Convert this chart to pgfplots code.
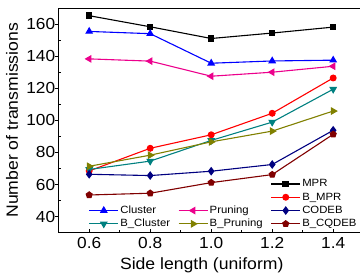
\documentclass[border=0pt]{standalone}
\usepackage{fontspec}
\setmainfont[FakeStretch=1.08]{Liberation Sans}
\usepackage{pgfplots}
\pgfplotsset{compat=1.18}
\usetikzlibrary{plotmarks}
\definecolor{cNavy}{RGB}{0,0,128}
\definecolor{cTeal}{RGB}{0,128,128}
\definecolor{cOlive}{RGB}{128,128,0}
\definecolor{cDkRed}{RGB}{128,0,0}
\pgfplotsset{
 sMPR/.style={black, line width=1.1pt, mark=square*, mark size=2.7pt, mark options={solid}},
 sCluster/.style={blue, line width=1.1pt, mark=triangle*, mark size=3.5pt},
 sPruning/.style={magenta, line width=1.1pt, mark=triangle*, mark size=3.5pt, mark options={rotate=90}},
 sBMPR/.style={red, line width=1.1pt, mark=*, mark size=2.9pt},
 sCODEB/.style={cNavy, line width=1.1pt, mark=diamond*, mark size=3.5pt},
 sBCluster/.style={cTeal, line width=1.1pt, mark=triangle*, mark size=3.5pt, mark options={rotate=180}},
 sBPruning/.style={cOlive, line width=1.1pt, mark=triangle*, mark size=3.5pt, mark options={rotate=-90}},
 sBCQDEB/.style={cDkRed, line width=1.1pt, mark=pentagon*, mark size=3.1pt},
}
\begin{document}
\begin{tikzpicture}
\begin{axis}[
  scale only axis, width=305pt, height=224.7pt,
  xmin=0.5, xmax=1.5, ymin=30, ymax=170,
  xtick={0.6,0.8,1.0,1.2,1.4},
  xticklabels={0.6,0.8,1.0,1.2,1.4},
  ytick={40,60,80,100,120,140,160},
  minor x tick num=1, minor y tick num=1,
  tick align=inside, xtick pos=bottom, ytick pos=left,
  major tick length=4pt, minor tick length=2.5pt,
  major y tick style={xshift=-4pt},
  tick style={black, line width=0.6pt},
  axis line style={line width=0.9pt},
  /pgf/number format/assume math mode=true,
  tick label style={font=\fontsize{16}{18}\selectfont},
  xticklabel style={yshift=-1.5pt},
  xlabel={Side length (uniform)},
  ylabel={Number of transmissions},
  label style={font=\fontsize{16.3}{18}\selectfont},
  xlabel style={at={(axis description cs:0.469,-0.144)}, anchor=center},
  ylabel style={at={(axis description cs:-0.153,0.5)}, anchor=center},
  legend columns=3,
  legend cell align=left,
  legend style={draw=none, fill=none, font=\fontsize{10.5}{12}\selectfont,
    at={(axis description cs:0.088,0.0)}, anchor=south west,
    nodes={inner sep=1.5pt, text height=8pt, text depth=2.3pt},
    /tikz/every even column/.append style={column sep=6.5pt}},
  legend image code/.code={\draw[mark repeat=2,mark phase=2] plot coordinates {(0pt,0pt)(14.5pt,0pt)(29pt,0pt)};},
  clip=false,
]
\coordinate (O) at (rel axis cs:0,0);
\addplot[sMPR, forget plot] coordinates {(0.6,165.2)(0.8,158.3)(1.0,151)(1.2,154.4)(1.4,158.1)};
\addplot[sCluster, forget plot] coordinates {(0.6,155.4)(0.8,154)(1.0,135.6)(1.2,137)(1.4,137.5)};
\addplot[sPruning, forget plot] coordinates {(0.6,138.3)(0.8,136.9)(1.0,127.5)(1.2,130)(1.4,133.7)};
\addplot[sBMPR, forget plot] coordinates {(0.6,68.5)(0.8,82.6)(1.0,91)(1.2,104.4)(1.4,126.4)};
\addplot[sBCluster, forget plot] coordinates {(0.6,69.4)(0.8,74.6)(1.0,87.5)(1.2,98.9)(1.4,119.4)};
\addplot[sBPruning, forget plot] coordinates {(0.6,71.4)(0.8,78.3)(1.0,86.6)(1.2,93.3)(1.4,105.8)};
\addplot[sCODEB, forget plot] coordinates {(0.6,66.4)(0.8,65.6)(1.0,68.3)(1.2,72.5)(1.4,93.8)};
\addplot[sBCQDEB, forget plot] coordinates {(0.6,53.5)(0.8,54.6)(1.0,61.2)(1.2,66.2)(1.4,91.3)};
\addlegendimage{empty legend}\addlegendentry{}
\addlegendimage{empty legend}\addlegendentry{}
\addlegendimage{sMPR}\addlegendentry{MPR}
\addlegendimage{empty legend}\addlegendentry{}
\addlegendimage{empty legend}\addlegendentry{}
\addlegendimage{sBMPR}\addlegendentry{B\_MPR}
\addlegendimage{sCluster}\addlegendentry{Cluster}
\addlegendimage{sPruning}\addlegendentry{Pruning}
\addlegendimage{sCODEB}\addlegendentry{CODEB}
\addlegendimage{sBCluster}\addlegendentry{B\_Cluster}
\addlegendimage{sBPruning}\addlegendentry{B\_Pruning}
\addlegendimage{sBCQDEB}\addlegendentry{B\_CQDEB}
\end{axis}
\pgfresetboundingbox
\useasboundingbox (O) ++(-58.7pt,-44.3pt) rectangle ++(360pt,277pt);
\end{tikzpicture}
\end{document}
